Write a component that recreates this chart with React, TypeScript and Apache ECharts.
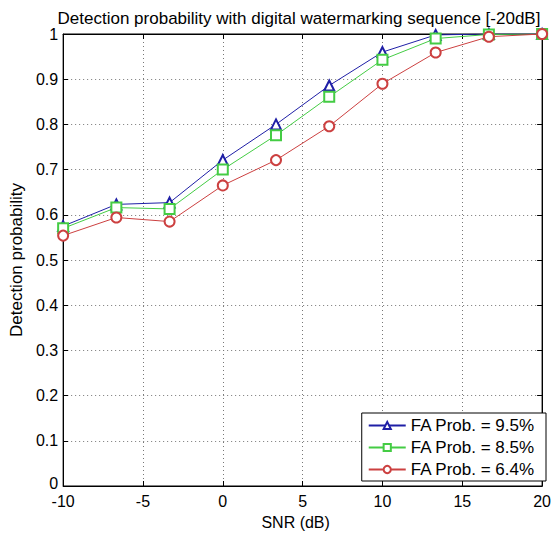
import React, { useEffect, useRef } from "react";
import * as echarts from "echarts";

const snr = [-10, -6.667, -3.333, 0, 3.333, 6.667, 10, 13.333, 16.667, 20];
const fa95 = [0.575, 0.623, 0.627, 0.721, 0.8, 0.886, 0.96, 0.998, 1.0, 1.0];
const fa85 = [0.57, 0.616, 0.613, 0.7, 0.776, 0.861, 0.943, 0.99, 0.999, 1.0];
const fa64 = [0.554, 0.594, 0.585, 0.665, 0.721, 0.796, 0.89, 0.959, 0.994, 1.0];
const seriesNames = ["FA Prob. = 9.5%", "FA Prob. = 8.5%", "FA Prob. = 6.4%"];
const title = "Detection probability with digital watermarking sequence [-20dB]";

const FONT = "'Liberation Sans', Arial, sans-serif";

export default function App() {
  const ref = useRef<HTMLDivElement>(null);
  useEffect(() => {
    const chart = echarts.init(ref.current!, null, { renderer: "svg" });
    const mk = (name: string, data: number[], color: string, symbol: string) => ({
      name,
      type: "line",
      data: snr.map((x, i) => [x, data[i]]),
      symbol,
      symbolSize: 10,
      showSymbol: true,
      lineStyle: { color, width: 1 },
      itemStyle: { color, borderColor: color, borderWidth: 1 },
      xAxisIndex: 0,
      yAxisIndex: 0,
    });
    chart.setOption({
      animation: false,
      backgroundColor: "#ffffff",
      title: {
        text: title,
        left: 294,
        textAlign: "center",
        top: 5,
        textStyle: { fontFamily: FONT, fontSize: 17, fontWeight: "normal", color: "#000" },
      },
      grid: { left: 62, right: 8, top: 34, bottom: 43, show: true, borderColor: "#000", borderWidth: 1 },
      legend: {
        orient: "vertical",
        right: 8,
        bottom: 54,
        backgroundColor: "#fff",
        borderColor: "#000",
        borderWidth: 1,
        borderRadius: 0,
        padding: [4, 11, 3, 6],
        itemWidth: 37,
        itemHeight: 9,
        itemGap: 5,
        textStyle: { fontFamily: FONT, fontSize: 17, color: "#000" },
        data: seriesNames,
      },
      xAxis: [
        {
          type: "value",
          min: -10,
          max: 20,
          interval: 5,
          position: "bottom",
          name: "SNR (dB)",
          nameLocation: "middle",
          nameGap: 28,
          nameTextStyle: { fontFamily: FONT, fontSize: 16, color: "#000", padding: [0, 14, 0, 0] },
          axisLine: { onZero: false, lineStyle: { color: "#000" } },
          axisTick: { inside: true, length: 5, lineStyle: { color: "#000" } },
          axisLabel: { fontFamily: FONT, fontSize: 16, color: "#000", margin: 7 },
          splitLine: { show: true, lineStyle: { type: [1, 3], color: "#777" } },
        },
        {
          type: "value",
          min: -10,
          max: 20,
          interval: 5,
          position: "top",
          axisLine: { onZero: false, lineStyle: { color: "#000" } },
          axisTick: { inside: true, length: 5, lineStyle: { color: "#000" } },
          axisLabel: { show: false },
          splitLine: { show: false },
        },
      ],
      yAxis: [
        {
          type: "value",
          min: 0,
          max: 1,
          interval: 0.1,
          position: "left",
          name: "Detection probability",
          nameLocation: "middle",
          nameGap: 34,
          nameTextStyle: { fontFamily: FONT, fontSize: 17, color: "#000" },
          axisLine: { show: true, onZero: false, lineStyle: { color: "#000" } },
          axisTick: { show: true, inside: true, length: 5, lineStyle: { color: "#000" } },
          axisLabel: {
            fontFamily: FONT,
            fontSize: 16,
            color: "#000",
            margin: 5,
            formatter: (v: number) => {
              const s = String(Math.round(v * 10) / 10);
              return v === 0 ? "{z|" + s + "}" : s;
            },
            rich: { z: { fontFamily: FONT, fontSize: 16, color: "#000", padding: [0, 0, 6, 0] } },
          },
          splitLine: { show: true, lineStyle: { type: [1, 3], color: "#777" } },
        },
        {
          type: "value",
          min: 0,
          max: 1,
          interval: 0.1,
          position: "right",
          axisLine: { show: true, onZero: false, lineStyle: { color: "#000" } },
          axisTick: { show: true, inside: true, length: 5, lineStyle: { color: "#000" } },
          axisLabel: { show: false },
          splitLine: { show: false },
        },
      ],
      series: [
        mk(seriesNames[0], fa95, "#1f1fa6", "emptyTriangle"),
        mk(seriesNames[1], fa85, "#44cc44", "emptyRect"),
        mk(seriesNames[2], fa64, "#cc4040", "emptyCircle"),
      ],
    });
    return () => chart.dispose();
  }, []);
  return <div ref={ref} style={{ width: 554, height: 535, position: "absolute", left: 0, top: 0 }} />;
}
